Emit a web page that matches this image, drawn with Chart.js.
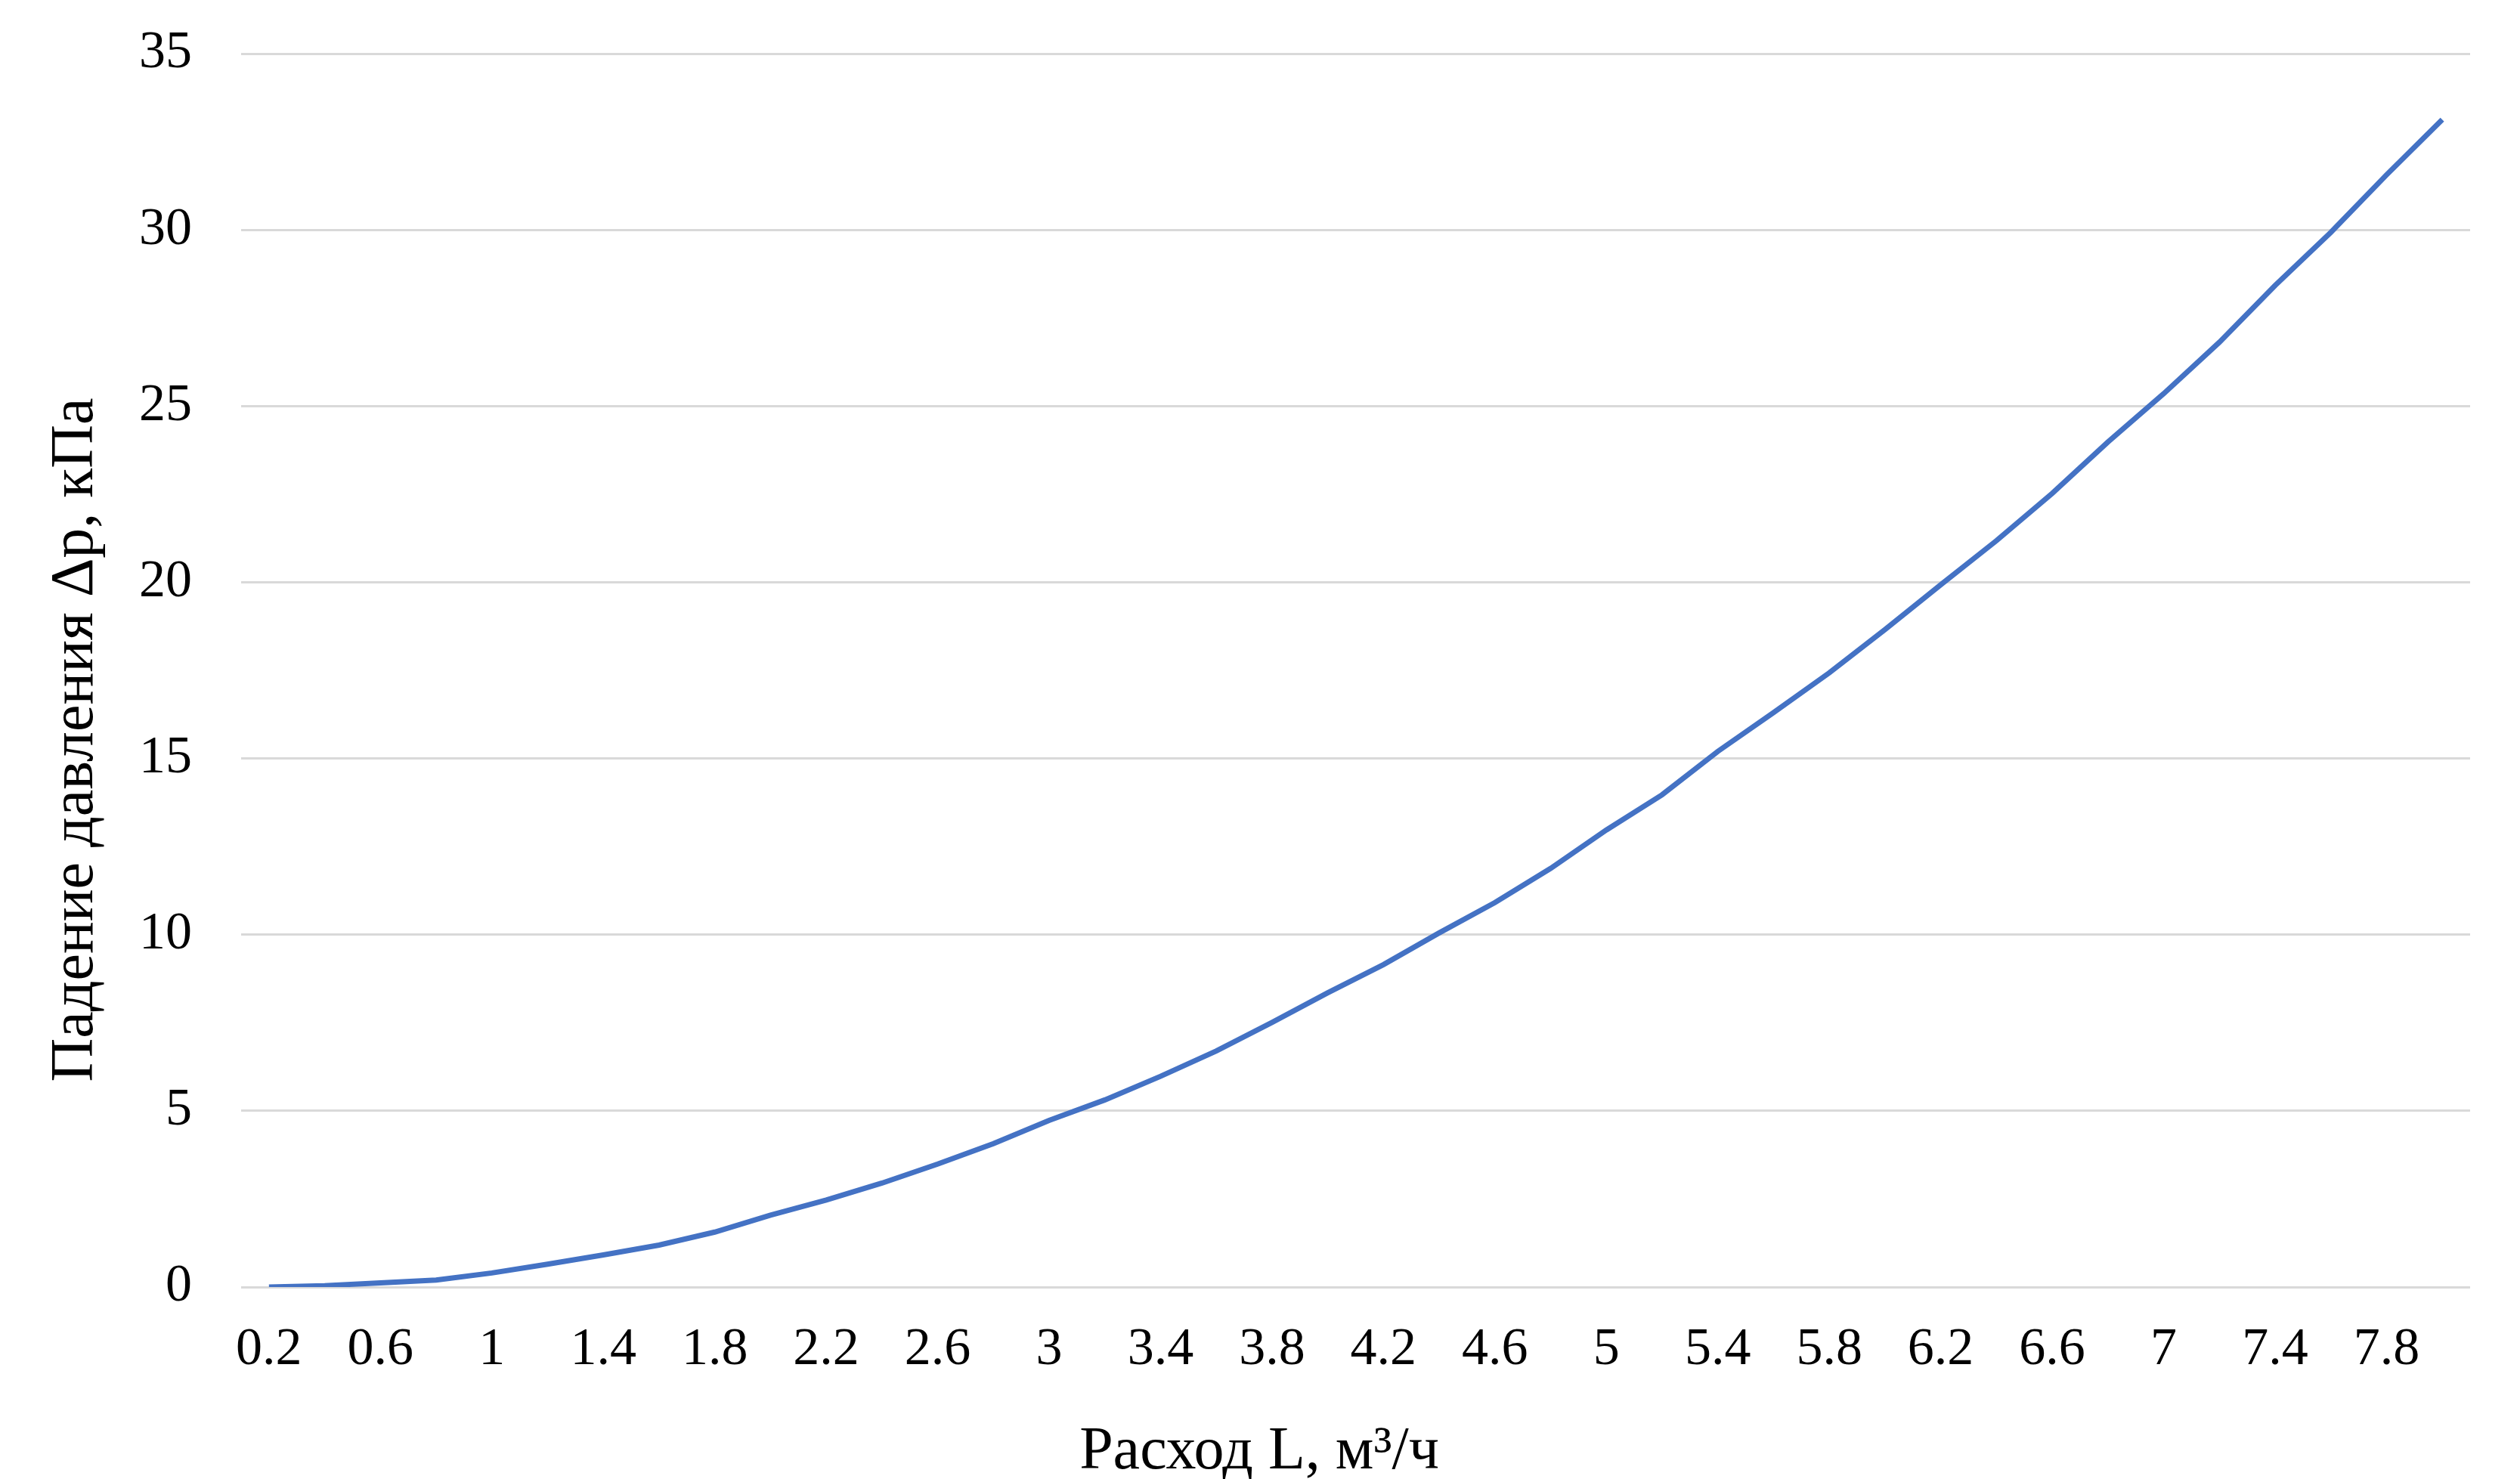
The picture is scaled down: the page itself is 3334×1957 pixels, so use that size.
<!DOCTYPE html>
<html>
<head>
<meta charset="utf-8">
<script src="https://cdn.jsdelivr.net/npm/chart.js@4"></script>
<style>
  html, body { margin: 0; padding: 0; background: #fff; }
  #frame { width: 3334px; height: 1957px; overflow: hidden; position: relative; }
  /* the y tick padding also pads the top of the scale, so lift the chart a little */
  #wrap { position: absolute; left: 0; top: -36px; width: 3334px; height: 1993px; }
</style>
</head>
<body>
<div id="frame"><div id="wrap"><canvas id="flowChart"></canvas></div></div>
<script>
const flowLabels = ['0.2', '0.4', '0.6', '0.8', '1', '1.2', '1.4', '1.6', '1.8', '2',
    '2.2', '2.4', '2.6', '2.8', '3', '3.2', '3.4', '3.6', '3.8', '4',
    '4.2', '4.4', '4.6', '4.8', '5', '5.2', '5.4', '5.6', '5.8', '6',
    '6.2', '6.4', '6.6', '6.8', '7', '7.2', '7.4', '7.6', '7.8', '8'];

const pressureDrop = [0, 0.04, 0.12, 0.2, 0.4, 0.65, 0.91, 1.19, 1.56, 2.04,
    2.47, 2.95, 3.49, 4.07, 4.73, 5.31, 5.98, 6.7, 7.51, 8.35,
    9.15, 10.05, 10.91, 11.88, 12.97, 13.97, 15.2, 16.3, 17.43, 18.66,
    19.93, 21.18, 22.52, 23.98, 25.35, 26.81, 28.42, 29.93, 31.56, 33.13];

const xTitle = 'Расход L, м³/ч';
const yTitle = 'Падение давления Δp, кПа';

const fontFamily = "'Liberation Serif', 'DejaVu Serif', serif";

// axis titles placed like the Excel original (not centred on the plot)
const axisTitles = {
    id: 'axisTitles',
    afterDraw(chart) {
        const { ctx, chartArea } = chart;
        ctx.save();
        ctx.fillStyle = '#000';
        ctx.font = '80px ' + fontFamily;
        ctx.textAlign = 'center';
        ctx.textBaseline = 'alphabetic';
        ctx.fillText(xTitle, chartArea.left + 1347, chartArea.bottom + 240);
        ctx.translate(chartArea.left - 197, (chartArea.top + chartArea.bottom) / 2 + 92);
        ctx.rotate(-Math.PI / 2);
        ctx.fillText(yTitle, 0, 0);
        ctx.restore();
    }
};

new Chart(document.getElementById('flowChart'), {
    type: 'line',
    data: {
        labels: flowLabels,
        datasets: [{
            label: 'Δp',
            data: pressureDrop,
            borderColor: '#4472C4',
            borderWidth: 7,
            pointRadius: 0,
            tension: 0,
            fill: false
        }]
    },
    options: {
        responsive: true,
        maintainAspectRatio: false,
        animation: false,
        layout: {
            padding: { left: 119, right: 66, top: 0, bottom: 94 }
        },
        plugins: {
            legend: { display: false },
            tooltip: { enabled: false }
        },
        scales: {
            x: {
                offset: true,
                grid: { display: false },
                border: { display: false },
                ticks: {
                    autoSkip: false,
                    maxRotation: 0,
                    padding: 34,
                    color: '#000',
                    font: { family: fontFamily, size: 70 },
                    callback: function (value, index) {
                        return index % 2 === 0 ? this.getLabelForValue(value) : '';
                    }
                }
            },
            y: {
                min: 0,
                max: 35,
                border: { display: false },
                grid: { color: '#d9d9d9', lineWidth: 3, drawTicks: false },
                ticks: {
                    stepSize: 5,
                    padding: 65,
                    color: '#000',
                    font: { family: fontFamily, size: 70 }
                }
            }
        }
    },
    plugins: [axisTitles]
});
</script>
</body>
</html>
